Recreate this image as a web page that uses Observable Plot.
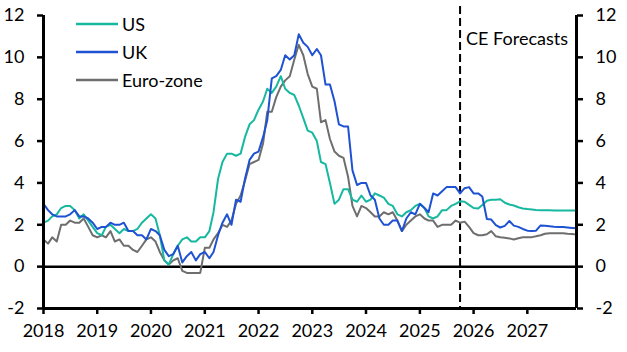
<!DOCTYPE html>
<html>
<head>
<meta charset="utf-8">
<script src="https://cdn.jsdelivr.net/npm/d3@7"></script>
<script src="https://cdn.jsdelivr.net/npm/@observablehq/plot@0.6"></script>
<style>
  html, body { margin: 0; padding: 0; background: #fff; }
  #wrap { position: relative; width: 627px; height: 352px; font-family: Lato, "Open Sans", sans-serif; }
  #legend { position: absolute; left: 76px; top: 10px; font-size: 18px; color: #000; }
  #legend .row { display: flex; align-items: center; height: 28px; }
  #legend svg { margin-right: 4px; }
</style>
</head>
<body>
<div id="wrap"><div id="legend"></div></div>
<script>
// Monthly inflation, % y/y, Jan 2018 .. Dec 2027 (forecasts from Oct 2025)
const seriesNames = ["US", "UK", "Euro-zone"];
const seriesColors = ["#17b8a0", "#1f52d2", "#6e6e6e"];

const us = [
  2.1, 2.2, 2.4, 2.5, 2.8, 2.9, 2.9, 2.7, 2.3, 2.5, 2.2, 1.9,
  1.6, 1.5, 1.9, 2.0, 1.8, 1.6, 1.8, 1.7, 1.7, 1.8, 2.1, 2.3,
  2.5, 2.3, 1.5, 0.3, 0.1, 0.6, 1.0, 1.3, 1.4, 1.2, 1.2, 1.4,
  1.4, 1.7, 2.6, 4.2, 5.0, 5.4, 5.4, 5.3, 5.4, 6.2, 6.8, 7.0,
  7.5, 7.9, 8.5, 8.3, 8.6, 9.1, 8.5, 8.3, 8.2, 7.7, 7.1, 6.5,
  6.4, 6.0, 5.0, 4.9, 4.0, 3.0, 3.2, 3.7, 3.7, 3.2, 3.1, 3.4,
  3.1, 3.2, 3.5, 3.4, 3.3, 3.0, 2.9, 2.5, 2.4, 2.6, 2.7, 2.9,
  3.0, 2.8, 2.4, 2.3, 2.4, 2.7, 2.7, 2.9, 3.0, 3.12, 3.1, 2.95,
  2.8, 2.78, 2.95, 3.15, 3.2, 3.2, 3.22, 3.05, 2.97, 2.92, 2.84, 2.78,
  2.75, 2.73, 2.71, 2.7, 2.69, 2.69, 2.68, 2.68, 2.68, 2.68, 2.68, 2.68
];
const uk = [
  3.0, 2.7, 2.5, 2.4, 2.4, 2.4, 2.5, 2.7, 2.4, 2.4, 2.3, 2.1,
  1.8, 1.9, 1.9, 2.1, 2.0, 2.0, 2.1, 1.7, 1.7, 1.5, 1.5, 1.3,
  1.8, 1.7, 1.5, 0.8, 0.5, 0.6, 1.0, 0.2, 0.5, 0.7, 0.3, 0.6,
  0.7, 0.4, 0.7, 1.5, 2.1, 2.5, 2.0, 3.2, 3.1, 4.2, 5.1, 5.4,
  5.5, 6.2, 7.0, 9.0, 9.1, 9.4, 10.1, 9.9, 10.1, 11.1, 10.7, 10.5,
  10.1, 10.4, 10.1, 8.7, 8.7, 7.9, 6.8, 6.7, 6.7, 4.6, 3.9, 4.0,
  4.0, 3.4, 3.2, 2.3, 2.0, 2.0, 2.2, 2.2, 1.7, 2.3, 2.6, 2.5,
  3.0, 2.8, 2.6, 3.5, 3.4, 3.6, 3.8, 3.8, 3.8, 3.5, 3.75, 3.8,
  3.5, 3.5, 3.35, 2.28, 2.25, 1.98, 1.87, 1.95, 2.18, 1.96, 1.9, 1.8,
  1.72, 1.7, 1.72, 1.97, 1.95, 1.93, 1.91, 1.9, 1.89, 1.87, 1.85, 1.83
];
const ez = [
  1.3, 1.1, 1.4, 1.2, 2.0, 2.0, 2.2, 2.1, 2.1, 2.3, 1.9, 1.5,
  1.4, 1.5, 1.4, 1.7, 1.2, 1.3, 1.0, 1.0, 0.8, 0.7, 1.0, 1.3,
  1.4, 1.2, 0.7, 0.3, 0.1, 0.3, 0.4, -0.2, -0.3, -0.3, -0.3, -0.3,
  0.9, 0.9, 1.3, 1.6, 2.0, 1.9, 2.2, 3.0, 3.4, 4.1, 4.9, 5.0,
  5.1, 5.9, 7.4, 7.4, 8.1, 8.6, 8.9, 9.1, 9.9, 10.6, 10.1, 9.2,
  8.6, 8.5, 6.9, 7.0, 6.1, 5.5, 5.3, 5.2, 4.3, 2.9, 2.4, 2.9,
  2.8, 2.6, 2.4, 2.4, 2.6, 2.5, 2.6, 2.2, 1.7, 2.0, 2.2, 2.4,
  2.5, 2.3, 2.2, 2.2, 1.9, 2.0, 2.0, 2.0, 2.2, 2.1, 2.15, 1.9,
  1.6, 1.5, 1.5, 1.55, 1.7, 1.45, 1.4, 1.38, 1.35, 1.3, 1.36, 1.4,
  1.4, 1.41, 1.45, 1.5, 1.57, 1.6, 1.6, 1.6, 1.59, 1.57, 1.56, 1.53
];
const yTicks = [-2, 0, 2, 4, 6, 8, 10, 12];
const yearTicks = [2018, 2019, 2020, 2021, 2022, 2023, 2024, 2025, 2026, 2027];
const forecastLabel = "CE Forecasts";
const forecastStartMonth = [2025, 9]; // Oct 2025 (0-based month)

const startDate = new Date(Date.UTC(2018, 0, 1));
const endDate = new Date(Date.UTC(2027, 11, 1));
const forecastStart = new Date(Date.UTC(forecastStartMonth[0], forecastStartMonth[1], 1));
const monthDate = i => new Date(Date.UTC(2018, i, 1));

const allSeries = [us, uk, ez];
const data = [];
allSeries.forEach((vals, s) => vals.forEach((v, i) => data.push({series: seriesNames[s], date: monthDate(i), value: v})));

const yFmt = d => (d < 0 ? "-" + Math.abs(d) : String(d));
const font = "Lato, 'Open Sans', sans-serif";
const chart = Plot.plot({
  width: 627,
  height: 352,
  marginLeft: 43,
  marginRight: 51,
  marginTop: 15,
  marginBottom: 44,
  style: {fontFamily: font, fontSize: "18px", color: "#000", background: "white", overflow: "visible"},
  x: {type: "utc", domain: [startDate, endDate], label: null},
  y: {domain: [-2, 12], label: null},
  marks: [
    Plot.ruleY([0], {stroke: "#000", strokeWidth: 2.5}),
    Plot.ruleX([forecastStart], {stroke: "#000", strokeWidth: 2, strokeDasharray: "8,4", insetTop: -9}),
    Plot.lineY(data.filter(d => d.series === "Euro-zone"), {x: "date", y: "value", stroke: seriesColors[2], strokeWidth: 2, curve: "linear"}),
    Plot.lineY(data.filter(d => d.series === "US"), {x: "date", y: "value", stroke: seriesColors[0], strokeWidth: 2, curve: "linear"}),
    Plot.lineY(data.filter(d => d.series === "UK"), {x: "date", y: "value", stroke: seriesColors[1], strokeWidth: 2, curve: "linear"}),
    Plot.text([forecastLabel], {x: forecastStart, y: 10.86, dx: 6, textAnchor: "start", fontSize: 18, fill: "#000"}),
    Plot.axisY({anchor: "left", ticks: yTicks, tickFormat: yFmt, tickSize: 6, tickPadding: 13, strokeWidth: 2.5, label: null}),
    Plot.axisY({anchor: "right", ticks: yTicks, tickFormat: yFmt, tickSize: 6, tickPadding: 13, strokeWidth: 2.5, label: null}),
    Plot.axisX({anchor: "bottom", ticks: yearTicks.map(y => new Date(Date.UTC(y, 0, 1))), tickFormat: d3.utcFormat("%Y"), tickSize: 6, tickPadding: 10, strokeWidth: 2.5, label: null}),
    Plot.ruleX([startDate, endDate], {stroke: "#000", strokeWidth: 3}),
    Plot.ruleY([-2], {stroke: "#000", strokeWidth: 3})
  ]
});
const wrap = document.getElementById("wrap");
wrap.insertBefore(chart, wrap.firstChild);

const legend = document.getElementById("legend");
seriesNames.forEach((name, i) => {
  const row = document.createElement("div");
  row.className = "row";
  row.innerHTML = `<svg width="42" height="4"><line x1="0" x2="42" y1="2" y2="2" stroke="${seriesColors[i]}" stroke-width="2.5"/></svg><span>${name}</span>`;
  legend.appendChild(row);
});
</script>
</body>
</html>
